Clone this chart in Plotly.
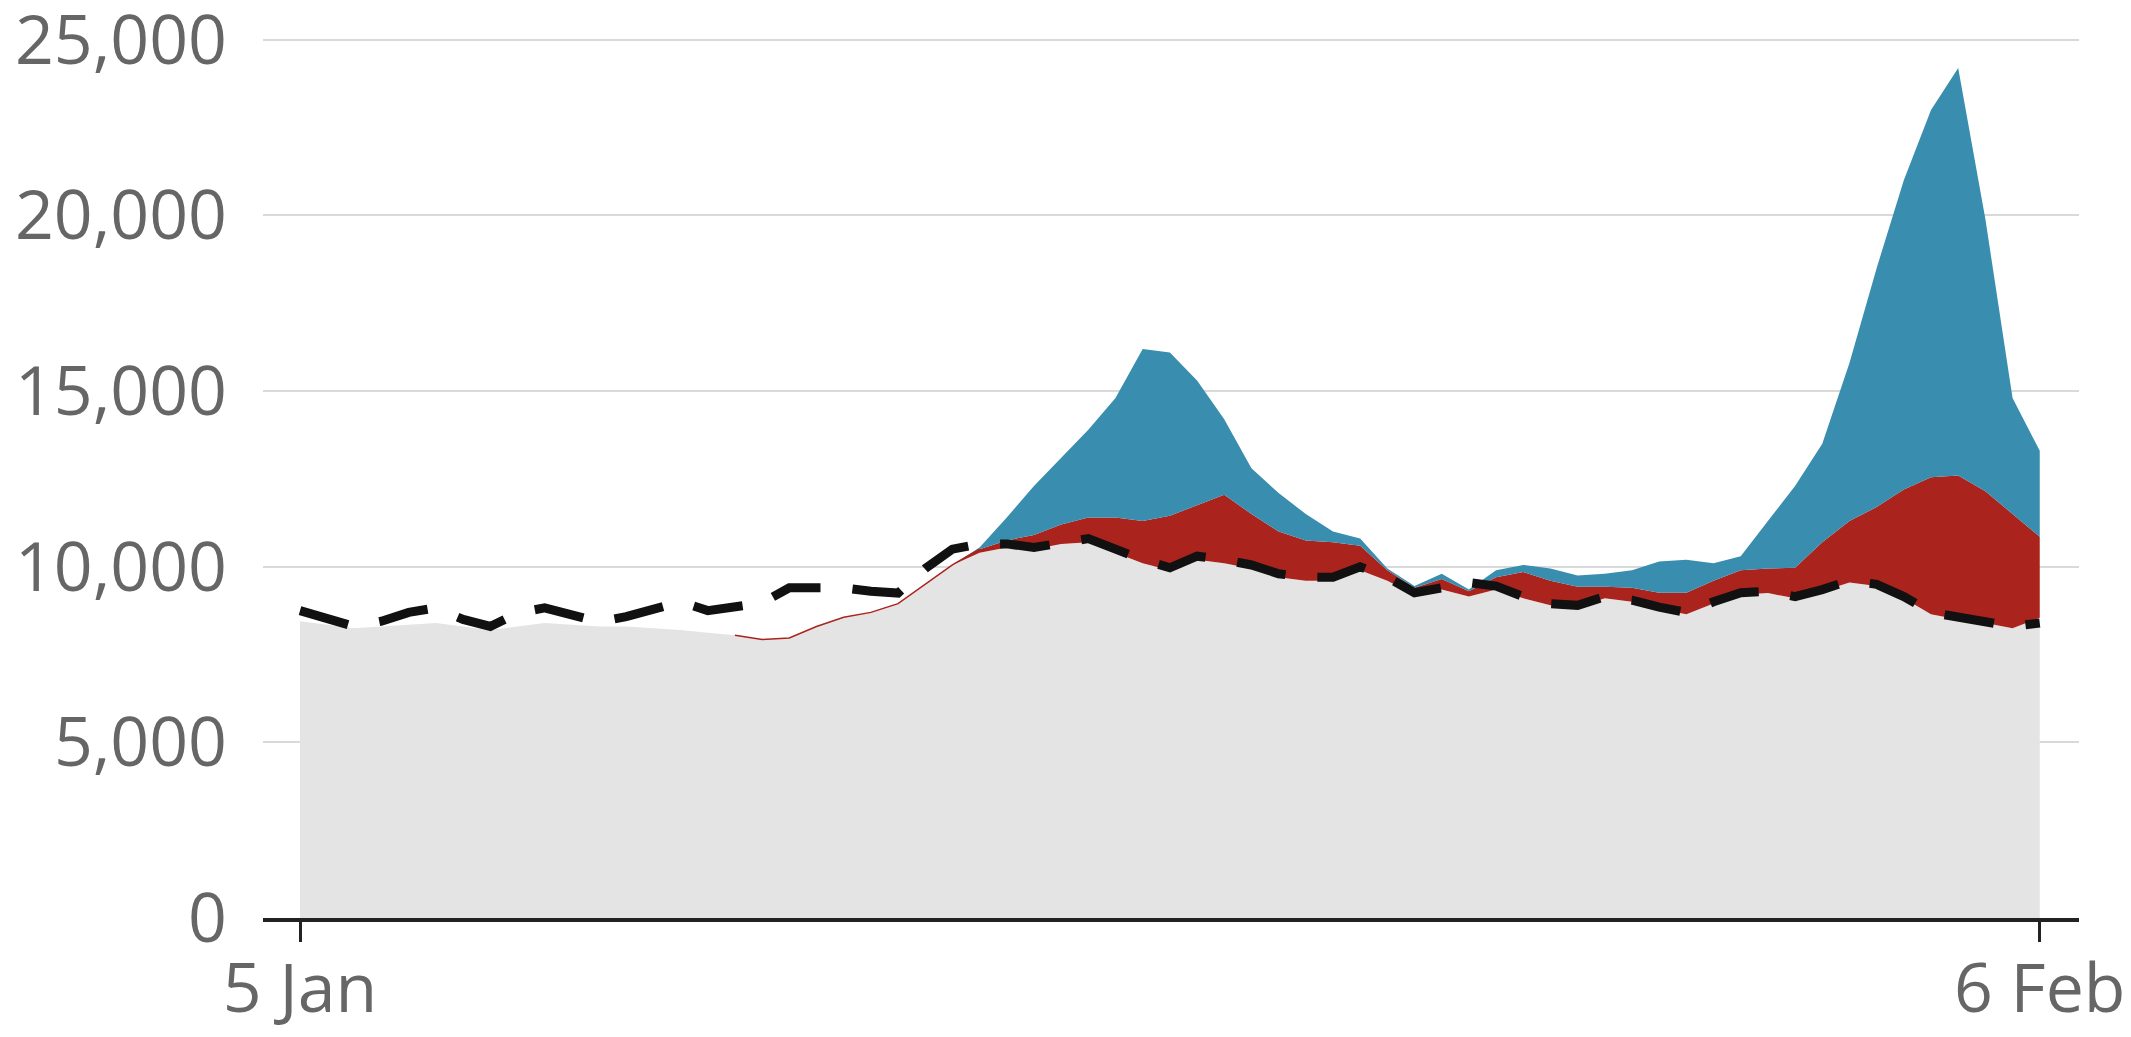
import pandas as pd
import plotly.graph_objects as go

# Half-day sample points from 5 Jan to 6 Feb
dates = pd.date_range("2021-01-05", "2021-02-06", freq="12h")

# Top of grey area
grey_top = [8450, 8350, 8250, 8300, 8350, 8400, 8300, 8200, 8300, 8400,
            8350, 8300, 8300, 8250, 8200, 8120, 8050, 7930, 7970, 8300,
            8560, 8700, 8950, 9500, 10050, 10400, 10550, 10500, 10650, 10700,
            10400, 10100, 9900, 10200, 10100, 9950, 9700, 9600, 9600, 9900,
            9600, 9200, 9350, 9150, 9350, 9100, 8900, 8850, 9100, 9000,
            8800, 8650, 8950, 9200, 9250, 9100, 9300, 9550, 9450, 9100,
            8650, 8500, 8400, 8250, 8550]

# Top of red area
red_top = [8450, 8350, 8250, 8300, 8350, 8400, 8300, 8200, 8300, 8400,
           8350, 8300, 8300, 8250, 8200, 8120, 8050, 7930, 7970, 8300,
           8560, 8700, 8950, 9500, 10050, 10500, 10750, 10900, 11200, 11400,
           11400, 11300, 11450, 11750, 12050, 11500, 11000, 10750, 10700, 10600,
           9900, 9400, 9650, 9300, 9700, 9850, 9600, 9430, 9430, 9400,
           9260, 9260, 9600, 9900, 9950, 9970, 10700, 11300, 11700, 12200,
           12550, 12600, 12150, 11500, 10850]

# Top of blue area
blue_top = [8450, 8350, 8250, 8300, 8350, 8400, 8300, 8200, 8300, 8400,
            8350, 8300, 8300, 8250, 8200, 8120, 8050, 7930, 7970, 8300,
            8560, 8700, 8950, 9500, 10050, 10550, 11400, 12300, 13100, 13900,
            14800, 16200, 16100, 15300, 14200, 12800, 12100, 11500, 11000, 10800,
            9950, 9450, 9800, 9350, 9900, 10050, 9950, 9750, 9800, 9900,
            10150, 10200, 10100, 10300, 11300, 12300, 13500, 15800, 18500, 21000,
            23000, 24200, 19900, 14800, 13300]

# Dashed average line
average = [8750, 8550, 8300, 8450, 8700, 8830, 8500, 8300, 8680, 8830,
           8630, 8430, 8580, 8800, 9000, 8750, 8850, 8970, 9400, 9420,
           9400, 9300, 9250, 9950, 10500, 10650, 10650, 10550, 10700, 10800,
           10500, 10200, 9970, 10300, 10200, 10050, 9800, 9700, 9700, 10000,
           9700, 9260, 9400, 9550, 9450, 9150, 8950, 8900, 9150, 9050,
           8850, 8700, 9000, 9260, 9300, 9150, 9350, 9600, 9500, 9150,
           8700, 8550, 8450, 8300, 8400]

y_ticks = [0, 5000, 10000, 15000, 20000, 25000]
y_tick_labels = ["0", "5,000", "10,000", "15,000", "20,000", "25,000"]
x_ticks = ["2021-01-05", "2021-02-06"]
x_tick_labels = ["5 Jan", "6 Feb"]

GREY = "#e4e4e4"
RED = "#aa231c"
BLUE = "#398dae"
TEXT = "#666666"

fig = go.Figure()
fig.add_trace(go.Scatter(x=dates, y=grey_top, mode="lines", line=dict(width=0, color=GREY),
                         fill="tozeroy", fillcolor=GREY, hoverinfo="skip"))
fig.add_trace(go.Scatter(x=dates, y=red_top, mode="lines", line=dict(width=0, color=RED),
                         fill="tonexty", fillcolor=RED, hoverinfo="skip"))
fig.add_trace(go.Scatter(x=dates, y=blue_top, mode="lines", line=dict(width=0, color=BLUE),
                         fill="tonexty", fillcolor=BLUE, hoverinfo="skip"))
# thin red edge where the red band first appears
fig.add_trace(go.Scatter(x=dates[16:26], y=red_top[16:26], mode="lines",
                         line=dict(width=1.5, color=RED), hoverinfo="skip"))
fig.add_trace(go.Scatter(x=dates, y=average, mode="lines",
                         line=dict(width=9, color="#111111", dash="50px,32px"),
                         hoverinfo="skip"))

fig.update_layout(
    width=2131, height=1037,
    margin=dict(l=263, r=52, t=37, b=119, autoexpand=False),
    paper_bgcolor="white", plot_bgcolor="white",
    showlegend=False,
    font=dict(family="Open Sans", color=TEXT, size=68),
)
fig.update_xaxes(
    type="date", automargin=False,
    range=["2021-01-04 07:40", "2021-02-06 17:20"],
    tickvals=x_ticks, ticktext=x_tick_labels,
    showgrid=False, zeroline=False,
    showline=True, linecolor="#222222", linewidth=4,
    ticks="outside", ticklen=20, tickwidth=3, tickcolor="#222222",
    ticklabelstandoff=-12, ticklabeloverflow="allow",
    tickfont=dict(size=68, color=TEXT),
)
fig.update_yaxes(
    automargin=False,
    range=[0, 25080],
    tickvals=y_ticks, ticktext=y_tick_labels,
    showgrid=True, gridcolor="#d9d9d9", gridwidth=2,
    zeroline=False, showline=False, ticks="",
    ticklabelstandoff=35, ticklabeloverflow="allow",
    tickfont=dict(size=68, color=TEXT),
)

fig.write_html("out.html", config={"displayModeBar": False},
               post_script="document.body.style.margin='0';")
